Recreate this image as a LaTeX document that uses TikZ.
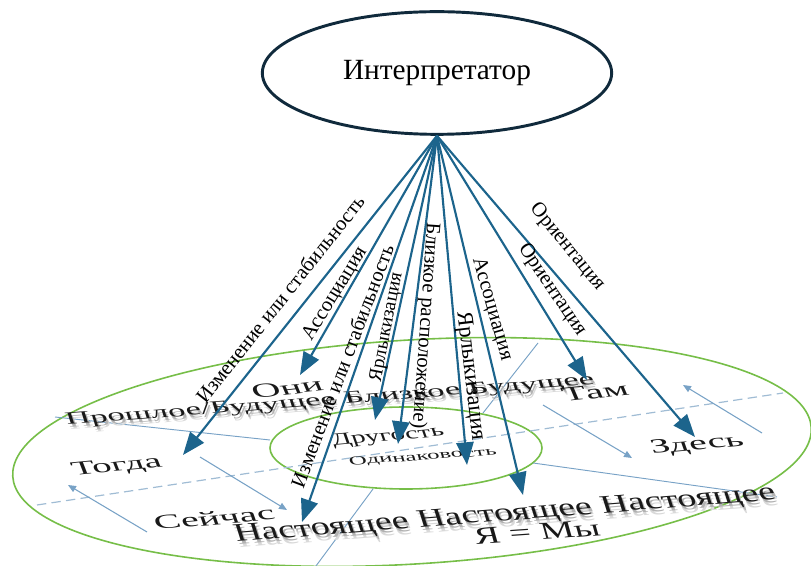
\documentclass[tikz,border=0pt]{standalone}
\usepackage{fontspec}
\setmainfont{Liberation Serif}
\usetikzlibrary{arrows.meta,shapes.geometric}
\definecolor{arrowcol}{RGB}{28,100,140}
\definecolor{ringcol}{RGB}{118,190,72}
\definecolor{thincol}{RGB}{120,162,198}
\definecolor{dashcol}{RGB}{160,188,212}
\definecolor{ellcol}{RGB}{16,42,60}
\newcommand{\fsz}[1]{\fontsize{#1}{#1}\selectfont}
\begin{document}
\begin{tikzpicture}[x=0.75pt,y=-0.75pt,
  bigarrow/.style={draw=arrowcol, line width=1.6pt, -{Triangle[length=17pt,width=13pt]}},
  lbl/.style={font=\fsz{15.5}, inner sep=0pt, text=black},
  thinline/.style={draw=thincol, line width=0.7pt},
  thinarrow/.style={draw=thincol, line width=0.8pt, -{Triangle[length=6pt,width=5pt]}},
  ring/.style={draw=ringcol, line width=1.2pt},
  disc/.style={inner sep=0pt, text=black!90, xscale=2},
  shad/.style={inner sep=0pt, text=black!30, xscale=2},
  shadsoft/.style={inner sep=0pt, text=black!15, xscale=2},
]
\useasboundingbox (0,0) rectangle (811,566);
% rings
\draw[ring, rotate around={3.5:(412,452)}] (412,452) ellipse [x radius=400, y radius=112];
\draw[ring] (406,448) ellipse [x radius=136, y radius=41];
% dashed axis and dividers
\coordinate (dA) at (37,505); \coordinate (dB) at (783,393);
\draw[draw=dashcol, line width=0.9pt, dash pattern=on 7pt off 4pt] (dA) -- (dB);
\coordinate (q1a) at (55,417);  \coordinate (q1b) at (270,440);
\coordinate (q2a) at (538,343); \coordinate (q2b) at (483,413);
\coordinate (q3a) at (533,463); \coordinate (q3b) at (777,497);
\coordinate (q4a) at (373,489); \coordinate (q4b) at (313,570);
\draw[thinline] (q1a) -- (q1b);
\draw[thinline] (q2a) -- (q2b);
\draw[thinline] (q3a) -- (q3b);
\draw[thinline] (q4a) -- (q4b);
% small arrows
\coordinate (s1a) at (200,457); \coordinate (s1b) at (287,510);
\coordinate (s2a) at (147,532); \coordinate (s2b) at (68,485);
\coordinate (s3a) at (543,405); \coordinate (s3b) at (632,458);
\coordinate (s4a) at (762,433); \coordinate (s4b) at (683,385);
\draw[thinarrow] (s1a) -- (s1b);
\draw[thinarrow] (s2a) -- (s2b);
\draw[thinarrow] (s3a) -- (s3b);
\draw[thinarrow] (s4a) -- (s4b);
% disc texts
\node[shadsoft, rotate=8.7, font=\fsz{13}] at (333,406) {Прошлое/Будущее Близкое Будущее};
\node[shad, rotate=8.7, font=\fsz{13}] at (332,404) {Прошлое/Будущее Близкое Будущее};
\node[disc, rotate=8.7, font=\fsz{13}] (past) at (330,401) {Прошлое/Будущее Близкое Будущее};
\node[shadsoft, rotate=8.9, font=\fsz{19}, xscale=0.75] at (508,521) {Настоящее Настоящее Настоящее};
\node[shad, rotate=8.9, font=\fsz{19}, xscale=0.75] at (507,518) {Настоящее Настоящее Настоящее};
\node[disc, rotate=8.9, font=\fsz{19}, xscale=0.75] (now) at (505,515) {Настоящее Настоящее Настоящее};
\node[disc, rotate=12, font=\fsz{15}] (they) at (287,388) {Они};
\node[disc, rotate=11, font=\fsz{14.5}] (then) at (117,467) {Тогда};
\node[disc, rotate=10, font=\fsz{15}] (nowword) at (214,518) {Сейчас};
\node[disc, rotate=10, font=\fsz{12.75}, xscale=0.85] (other) at (388,437) {Другость};
\node[disc, rotate=8, font=\fsz{9.3}] (same) at (423,457) {Одинаковость};
\node[disc, rotate=12, font=\fsz{15}] (there) at (595,392) {Там};
\node[disc, rotate=10, font=\fsz{15}] (here) at (697,445) {Здесь};
\node[disc, rotate=8, font=\fsz{18}, xscale=0.8] (iwe) at (537,532) {Я = Мы};
% interpreter
\node[ellipse, draw=ellcol, line width=2.2pt, minimum width=262pt, minimum height=92pt,
      font=\fsz{22}] (interp) at (437,73) {Интерпретатор};
% big arrows
\coordinate (t1) at (183,455);
\coordinate (t2) at (300,375);
\coordinate (t3) at (302,522);
\coordinate (t4) at (375,420);
\coordinate (t5) at (398,444);
\coordinate (t6) at (467,465);
\coordinate (t7) at (523,495);
\coordinate (t8) at (587,380);
\coordinate (t9) at (695,437);
\foreach \t in {t1,t2,t3,t4,t5,t6,t7,t8,t9}{\draw[bigarrow] (interp.south) -- (\t);}
% arrow labels
\node[lbl, rotate=51.6] (l1) at (280,299) {Изменение или стабильность};
\node[lbl, rotate=58.5] (l2) at (335,294) {Ассоциация};
\node[lbl, rotate=69.3] (l3) at (342,366) {Изменение или стабильность};
\node[lbl, rotate=79, font=\fsz{14.5}] (l4) at (387,327) {Ярлыкизация};
\node[lbl, rotate=-94] (l5) at (425,326) {Близкое расположение)};
\node[lbl, rotate=-83.3, font=\fsz{17}] (l6) at (470,376) {Ярлыкизация};
\node[lbl, rotate=-74] (l7) at (492,309) {Ассоциация};
\node[lbl, rotate=-56] (l8) at (552,290) {Ориентация};
\node[lbl, rotate=-50.5] (l9) at (567,247) {Ориентация};
\end{tikzpicture}
\end{document}
